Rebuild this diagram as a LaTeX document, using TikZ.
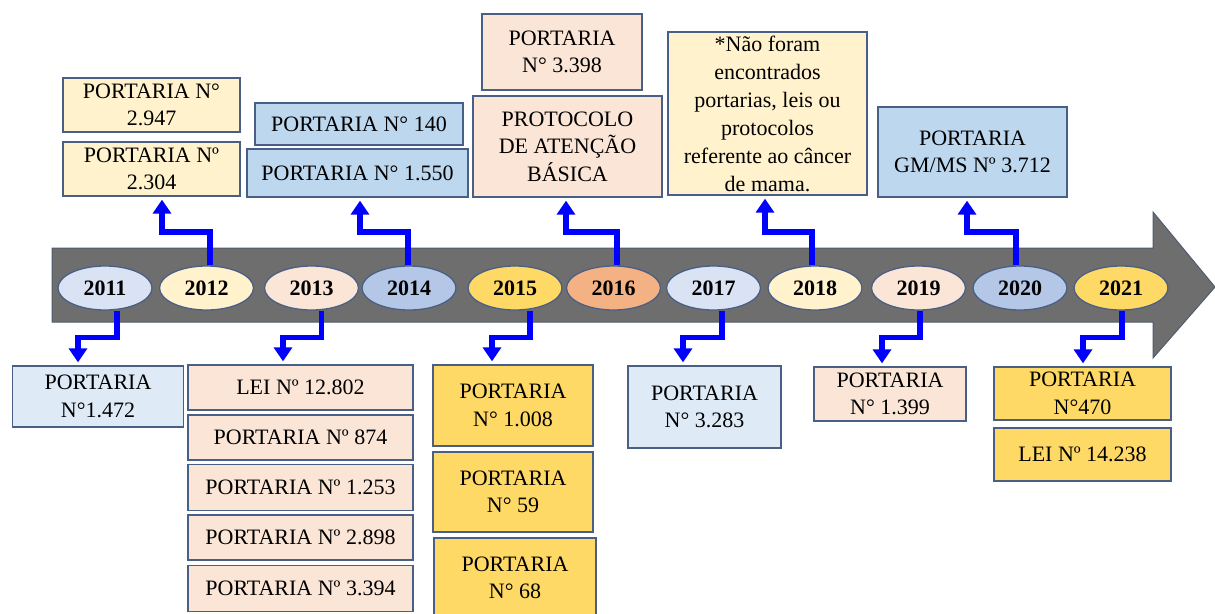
\documentclass[tikz,border=0pt]{standalone}
\usepackage{fontspec}
\setmainfont{Liberation Serif}
\usetikzlibrary{arrows.meta,shapes.geometric}
\definecolor{bandgray}{HTML}{6E6E6E}
\definecolor{bandline}{HTML}{4F5B6E}
\definecolor{edgeblue}{HTML}{4A5F86}
\definecolor{connblue}{HTML}{0000FF}
\definecolor{fLightBlue}{HTML}{DAE3F3}
\definecolor{fBoxBlue}{HTML}{DEEBF7}
\definecolor{fMidBlue}{HTML}{B4C7E7}
\definecolor{fSkyBlue}{HTML}{BDD7EE}
\definecolor{fCream}{HTML}{FFF2CC}
\definecolor{fPeach}{HTML}{FBE5D6}
\definecolor{fGold}{HTML}{FFD966}
\definecolor{fOrange}{HTML}{F4B183}
\begin{document}
\begin{tikzpicture}[x=1pt,y=-1pt,
  box/.style={draw=edgeblue, line width=1.3pt, inner sep=0pt, align=center,
    font=\fontsize{22}{27.5}\selectfont, text=black},
  yr/.style={ellipse, draw=edgeblue, line width=1.3pt, minimum width=94pt,
    minimum height=44pt, inner sep=0pt, font=\bfseries\fontsize{22}{26}\selectfont},
  conn/.style={draw=connblue, line width=5.5pt, line join=miter,
    -{Triangle[width=18pt,length=14pt]}, shorten >=3pt}]
\useasboundingbox (0,0) rectangle (1215,613);
% timeline arrow
\fill[bandgray, draw=bandline, line width=1pt]
  (52,248) -- (1153,248) -- (1153,212) -- (1215,287) -- (1153,358) -- (1153,322) -- (52,322) -- cycle;
% years
\node[yr, fill=fLightBlue] (y2011) at (105,288) {2011};
\node[yr, fill=fCream]     (y2012) at (206.5,288) {2012};
\node[yr, fill=fPeach]     (y2013) at (311.5,288) {2013};
\node[yr, fill=fMidBlue]   (y2014) at (409,288) {2014};
\node[yr, fill=fGold]      (y2015) at (515,288) {2015};
\node[yr, fill=fOrange]    (y2016) at (613.5,288) {2016};
\node[yr, fill=fLightBlue] (y2017) at (713.5,288) {2017};
\node[yr, fill=fCream]     (y2018) at (815,288) {2018};
\node[yr, fill=fPeach]     (y2019) at (918.5,288) {2019};
\node[yr, fill=fMidBlue]   (y2020) at (1020,288) {2020};
\node[yr, fill=fGold]      (y2021) at (1121,288) {2021};
% top boxes
\node[box, fill=fCream, minimum width=177pt, minimum height=54pt] (t2012a) at (151.5,105) {PORTARIA N°\\2.947};
\node[box, fill=fCream, minimum width=177pt, minimum height=54pt] (t2012b) at (151.5,169) {PORTARIA Nº\\2.304};
\node[box, fill=fSkyBlue, minimum width=208pt, minimum height=42pt] (t2014a) at (359,124) {PORTARIA N° 140};
\node[box, fill=fSkyBlue, minimum width=221pt, minimum height=48pt] (t2014b) at (357.5,173) {PORTARIA N° 1.550};
\node[box, fill=fPeach, minimum width=160pt, minimum height=76pt] (t2016a) at (562,52) {PORTARIA\\N° 3.398};
\node[box, fill=fPeach, minimum width=189pt, minimum height=101pt] (t2016b) at (567.5,146.5) {PROTOCOLO\\DE ATENÇÃO\\BÁSICA};
\node[box, fill=fCream, minimum width=199pt, minimum height=163pt, font=\fontsize{22}{28}\selectfont] (t2018) at (767.5,113.5)
  {*Não foram\\encontrados\\portarias, leis ou\\protocolos\\referente ao câncer\\de mama.};
\node[box, fill=fSkyBlue, minimum width=189pt, minimum height=90pt] (t2020) at (972.5,152) {PORTARIA\\GM/MS Nº 3.712};
% bottom boxes
\node[box, fill=fBoxBlue, minimum width=171pt, minimum height=61pt] (b2011) at (98,396.5) {PORTARIA\\N°1.472};
\node[box, fill=fPeach, minimum width=225pt, minimum height=45pt] (b2013a) at (300.5,387.5) {LEI Nº 12.802};
\node[box, fill=fPeach, minimum width=225pt, minimum height=45pt] (b2013b) at (300.5,437.5) {PORTARIA Nº 874};
\node[box, fill=fPeach, minimum width=225pt, minimum height=46pt] (b2013c) at (300.5,487.5) {PORTARIA Nº 1.253};
\node[box, fill=fPeach, minimum width=225pt, minimum height=45pt] (b2013d) at (300.5,537.5) {PORTARIA Nº 2.898};
\node[box, fill=fPeach, minimum width=225pt, minimum height=46pt] (b2013e) at (300.5,588.5) {PORTARIA Nº 3.394};
\node[box, fill=fGold, minimum width=160pt, minimum height=81pt] (b2015a) at (513,405.5) {PORTARIA\\N° 1.008};
\node[box, fill=fGold, minimum width=160pt, minimum height=80pt] (b2015b) at (513,492) {PORTARIA\\N° 59};
\node[box, fill=fGold, minimum width=162pt, minimum height=80pt] (b2015c) at (515,578) {PORTARIA\\N° 68};
\node[box, fill=fBoxBlue, minimum width=153pt, minimum height=82pt] (b2017) at (704.5,407) {PORTARIA\\N° 3.283};
\node[box, fill=fPeach, minimum width=152pt, minimum height=54pt] (b2019) at (890,394) {PORTARIA\\N° 1.399};
\node[box, fill=fGold, minimum width=177pt, minimum height=53pt] (b2021a) at (1082.5,393.5) {PORTARIA\\N°470};
\node[box, fill=fGold, minimum width=177pt, minimum height=53pt] (b2021b) at (1082.5,454.5) {LEI Nº 14.238};
% connectors up
\draw[conn] ([xshift=3.5pt]y2012.north) -- ++(0,-33.5) -| ([xshift=10.5pt]t2012b.south);
\draw[conn] ([xshift=-1pt]y2014.north) -- ++(0,-33.5) -| ([xshift=2.5pt]t2014b.south);
\draw[conn] ([xshift=3.5pt]y2016.north) -- ++(0,-33.5) -| ([xshift=-1.5pt]t2016b.south);
\draw[conn] ([xshift=-3pt]y2018.north) -- ++(0,-33.5) -| ([xshift=-2.5pt]t2018.south);
\draw[conn] ([xshift=-4pt]y2020.north) -- ++(0,-33.5) -| ([xshift=-5.5pt]t2020.south);
% connectors down
\draw[conn] ([xshift=12pt]y2011.south) -- ++(0,27) -| ([xshift=-20pt]b2011.north);
\draw[conn] ([xshift=10pt]y2013.south) -- ++(0,27) -| ([xshift=-17.5pt]b2013a.north);
\draw[conn] ([xshift=15pt]y2015.south) -- ++(0,27) -| ([xshift=-21pt]b2015a.north);
\draw[conn] ([xshift=8.5pt]y2017.south) -- ++(0,27) -| ([xshift=-21.5pt]b2017.north);
\draw[conn] ([xshift=1.5pt]y2019.south) -- ++(0,27) -| ([xshift=-8pt]b2019.north);
\draw[conn] ([xshift=1pt]y2021.south) -- ++(0,27) -| ([xshift=0.5pt]b2021a.north);
\end{tikzpicture}
\end{document}
